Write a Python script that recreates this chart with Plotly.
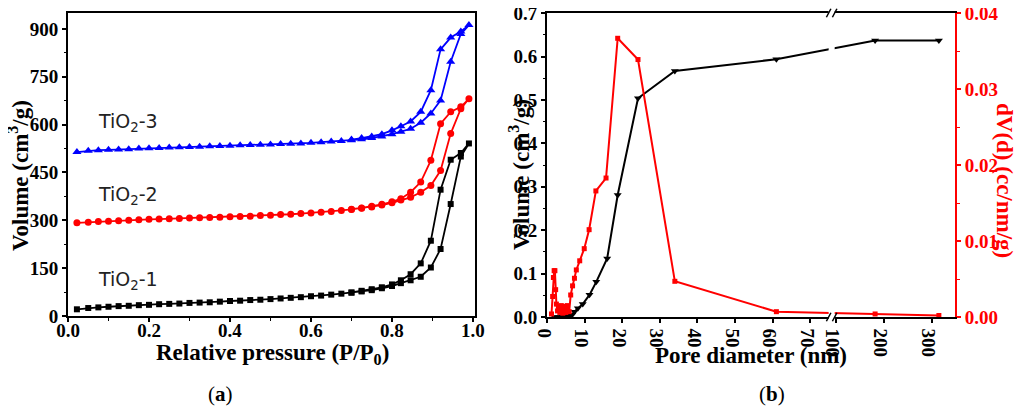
import plotly.graph_objects as go

# ---- (a) N2 adsorption-desorption isotherms ----
p_ads = [0.022, 0.05, 0.075, 0.1, 0.125, 0.15, 0.175, 0.2, 0.225, 0.25, 0.275, 0.3,
         0.325, 0.35, 0.375, 0.4, 0.425, 0.45, 0.475, 0.5, 0.525, 0.55, 0.575, 0.6,
         0.625, 0.65, 0.675, 0.7, 0.725, 0.75, 0.775, 0.8, 0.822, 0.846, 0.871, 0.896,
         0.92, 0.945, 0.97, 0.99]
p_des = [0.97, 0.945, 0.92, 0.896, 0.871, 0.846, 0.822, 0.8, 0.775, 0.75, 0.725, 0.7]

tio2_1_ads = [21, 25, 27, 29, 31, 32, 34, 35, 37, 38, 39, 41, 42, 43, 45, 47, 48, 50, 51, 53,
              55, 57, 59, 62, 64, 67, 70, 73, 77, 81, 87, 94, 103, 112, 123, 152, 210, 351, 500, 541]
tio2_1_des = [511, 490, 396, 236, 165, 131, 112, 99, 90, 84, 79, 74]

tio2_2_ads = [292, 294, 296, 297, 299, 300, 302, 303, 304, 305, 306, 307, 308, 309, 310, 311,
              312, 313, 315, 316, 318, 319, 321, 323, 325, 328, 331, 334, 338, 342, 348, 355,
              364, 372, 388, 409, 456, 572, 650, 681]
tio2_2_des = [656, 640, 603, 488, 420, 388, 368, 358, 350, 344, 339, 335]

tio2_3_ads = [514, 518, 520, 521, 522, 523, 525, 526, 527, 528, 529, 530, 531, 532, 533, 534,
              535, 536, 537, 538, 539, 540, 541, 543, 545, 547, 549, 551, 554, 558, 563, 570,
              578, 587, 606, 635, 676, 797, 884, 912]
tio2_3_des = [892, 873, 836, 708, 640, 610, 595, 582, 570, 563, 558, 553]

x_ticks_a = [0, 0.2, 0.4, 0.6, 0.8, 1.0]

# ---- (b) pore size distribution ----
d_cum = [2.0, 3.0, 4.0, 5.0, 6.0, 6.7, 7.3, 8.2, 9.5, 11.3, 13.1, 16.0, 18.8, 24.2, 34, 61, 182, 315]
v_cum = [0.0, 0.0, 0.001, 0.002, 0.003, 0.005, 0.012, 0.020, 0.030, 0.051, 0.081, 0.135,
         0.281, 0.504, 0.567, 0.594, 0.637, 0.637]

d_psd = [1.2, 1.5, 1.7, 1.9, 2.1, 2.3, 2.5, 2.8, 3.1, 3.4, 3.8, 4.2, 4.6, 5.0, 5.4, 5.9, 6.3,
         6.8, 7.3, 7.8, 8.7, 9.9, 11.2, 13.0, 15.7, 18.8, 24.2, 34, 61, 182, 315]
dv_psd = [0.0004, 0.0027, 0.0052, 0.0061, 0.0061, 0.0036, 0.0017, 0.0008, 0.0014, 0.0006,
          0.0015, 0.0005, 0.0014, 0.0006, 0.0015, 0.0007, 0.0029, 0.0041, 0.0051, 0.0062,
          0.0074, 0.0090, 0.0115, 0.0166, 0.0183, 0.0367, 0.0339, 0.0047, 0.0007, 0.0004, 0.0002]

x_ticks_b = [0, 10, 20, 30, 40, 50, 60, 70, 100, 200, 300]
y_ticks_vol = [0.0, 0.1, 0.2, 0.3, 0.4, 0.5, 0.6, 0.7]
y_ticks_dv = [0.00, 0.01, 0.02, 0.03, 0.04]


def brk(d):
    # broken axis: linear 0-76 nm, then compressed 100-350 nm
    if d <= 76:
        return d
    return 76.8 + (d - 100) * 0.1275


# page body has an 8px margin, so the figure is drawn at (8, 8)
W, H, OFF = 1016, 403, 8


def px(x):
    return (x - OFF) / W


def py(y):
    return 1 - (y - OFF) / H


serif = 'Liberation Serif'
tick_font = dict(family=serif, size=19, color='black', weight='bold')
title_font = dict(family=serif, size=23, color='black', weight='bold')

fig = go.Figure()

for p_a, p_d, v_a, v_d, col, sym, sz in [
        (p_ads, p_des, tio2_1_ads, tio2_1_des, 'black', 'square', 6),
        (p_ads, p_des, tio2_2_ads, tio2_2_des, '#ff0000', 'circle', 7),
        (p_ads, p_des, tio2_3_ads, tio2_3_des, '#0000ff', 'triangle-up', 8)]:
    fig.add_trace(go.Scatter(x=p_a + p_d, y=v_a + v_d, mode='lines+markers',
                             line=dict(color=col, width=1.8),
                             marker=dict(color=col, symbol=sym, size=sz),
                             xaxis='x', yaxis='y', showlegend=False))

fig.add_trace(go.Scatter(x=[brk(d) for d in d_cum], y=v_cum, mode='lines+markers',
                         line=dict(color='black', width=2),
                         marker=dict(color='black', symbol='triangle-down', size=7),
                         xaxis='x2', yaxis='y2', showlegend=False))
fig.add_trace(go.Scatter(x=[brk(d) for d in d_psd], y=dv_psd, mode='lines+markers',
                         line=dict(color='#ff0000', width=2),
                         marker=dict(color='#ff0000', symbol='square', size=5),
                         xaxis='x2', yaxis='y3', showlegend=False))

# invisible carriers for the tick-label axes that sit a little closer to the frame
fig.add_trace(go.Scatter(x=p_ads[:1], y=tio2_1_ads[:1], mode='markers', marker=dict(opacity=0),
                         xaxis='x3', yaxis='y', showlegend=False, hoverinfo='skip'))
fig.add_trace(go.Scatter(x=[brk(d) for d in d_cum[:1]], y=v_cum[:1], mode='markers',
                         marker=dict(opacity=0), xaxis='x4', yaxis='y2', showlegend=False,
                         hoverinfo='skip'))

ax_common = dict(showgrid=False, zeroline=False, showline=True, linewidth=2, linecolor='black',
                 ticks='outside', ticklen=4, tickwidth=1.5, tickcolor='black', tickfont=tick_font,
                 automargin=False, ticklabeloverflow='allow')
minor_k = dict(ticks='outside', ticklen=2.5, tickwidth=1.2, tickcolor='black')
lab_axis = dict(anchor='free', showline=False, ticks='', showgrid=False, zeroline=False,
                tickmode='array', tickfont=tick_font, automargin=False, ticklabeloverflow='allow')

fig.update_layout(
    template='none',
    width=W, height=H,
    margin=dict(l=0, r=0, t=0, b=0),
    paper_bgcolor='white', plot_bgcolor='white',
    xaxis=dict(domain=[px(68), px(475)], range=[0, 1.005], anchor='y', mirror=True,
               tickvals=x_ticks_a, showticklabels=False,
               minor=dict(dtick=0.1, **minor_k), **ax_common),
    xaxis3=dict(overlaying='x', matches='x', position=py(317),
                tickvals=x_ticks_a, ticktext=['%.1f' % t for t in x_ticks_a], **lab_axis),
    yaxis=dict(domain=[py(316), py(13)], range=[0, 950], anchor='x', mirror=True, dtick=150,
               minor=dict(dtick=75, **minor_k), **ax_common),
    xaxis2=dict(domain=[px(547), px(955)], range=[0, 108.5], anchor='y2', mirror=True,
                tickmode='array', tickvals=[brk(t) for t in x_ticks_b], showticklabels=False,
                **ax_common),
    xaxis4=dict(overlaying='x2', matches='x2', position=py(318),
                tickvals=[brk(t) for t in x_ticks_b], ticktext=[str(t) for t in x_ticks_b],
                **lab_axis),
    yaxis2=dict(domain=[py(317), py(13)], range=[0, 0.7005], anchor='x2',
                tickmode='array', tickvals=y_ticks_vol, ticktext=['%.1f' % t for t in y_ticks_vol],
                minor=dict(dtick=0.05, **minor_k), **ax_common),
    yaxis3=dict(overlaying='y2', side='right', anchor='x2', range=[0, 0.04003],
                tickmode='array', tickvals=y_ticks_dv, ticktext=['%.2f' % t for t in y_ticks_dv],
                showgrid=False, zeroline=False, showline=True, linewidth=2, ticklabeloverflow='allow',
                linecolor='#ff0000', ticks='outside', ticklen=4, tickwidth=1.5, tickcolor='#ff0000',
                tickfont=dict(family=serif, size=19, color='#ff0000', weight='bold'), automargin=False,
                minor=dict(ticks='outside', ticklen=2.5, tickwidth=1.2, tickcolor='#ff0000', dtick=0.005)),
)

# axis break on the pore-diameter axis
bc = brk(75.7)
fig.add_shape(type='rect', xref='x2', yref='y2 domain', x0=bc - 0.8, x1=bc + 0.8, y0=-0.02, y1=1.02,
              fillcolor='white', line=dict(width=0), layer='above')
for yc in [0, 1]:
    for dx in [-0.8, 0.8]:
        fig.add_shape(type='line', xref='x2', yref='y2 domain',
                      x0=bc + dx - 0.6, x1=bc + dx + 0.6, y0=yc - 0.014, y1=yc + 0.014,
                      line=dict(color='black', width=1.5), layer='above')

# sample labels
for txt, yv in [('TiO<sub>2</sub>-3', 607), ('TiO<sub>2</sub>-2', 378), ('TiO<sub>2</sub>-1', 110)]:
    fig.add_annotation(x=0.07, y=yv, xref='x', yref='y', text=txt, showarrow=False, xanchor='left',
                       font=dict(family='DejaVu Sans', size=19, color='#222222'))


def label(text, x, y, font, angle=0):
    fig.add_annotation(x=px(x), y=py(y), xref='paper', yref='paper', showarrow=False,
                       xanchor='center', yanchor='middle', text=text, textangle=angle, font=font)


# axis titles
label('Relative pressure (P/P<sub>0</sub>)', 272, 354, title_font)
label('Volume (cm<sup>3</sup>/g)', 19, 176, title_font, -90)
label('Pore diameter (nm)', 751, 355, title_font)
label('Volume (cm<sup>3</sup>/g)', 519, 175, title_font, -90)
label('dV(d) (cc/nm/g)', 1005, 180, dict(family=serif, size=23, color='#ff0000', weight='bold'), 90)

# panel captions
label('(<b>a</b>)', 220, 394, dict(family=serif, size=21, color='black'))
label('(<b>b</b>)', 772, 394, dict(family=serif, size=21, color='black'))

fig.write_html("out.html")
